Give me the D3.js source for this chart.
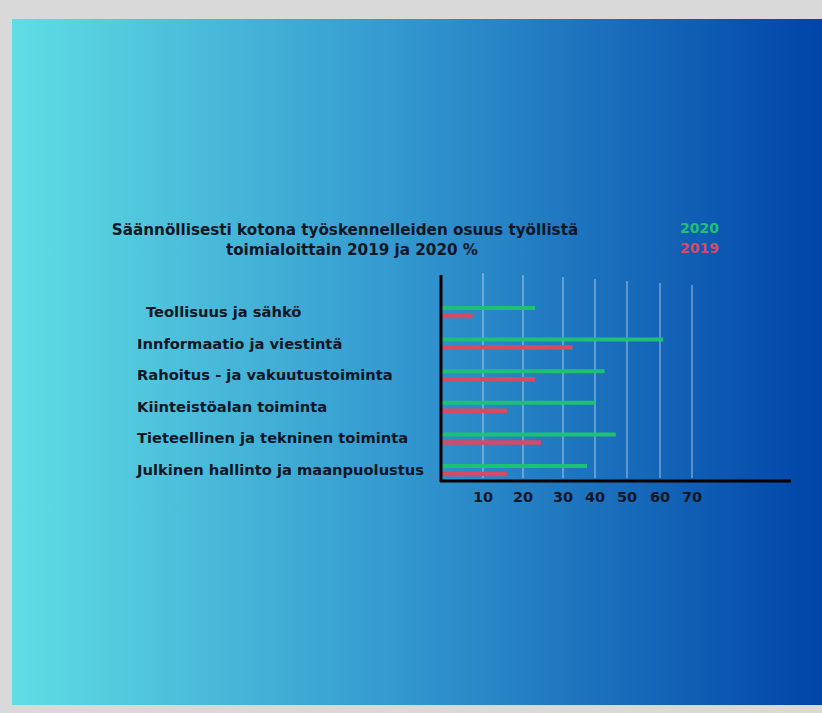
<!DOCTYPE html>
<html lang="fi">
<head>
  <meta charset="UTF-8" />
  <title>Säännöllisesti kotona työskennelleet</title>
  <script src="https://d3js.org/d3.v7.min.js"></script>
  <style>
    body { margin: 0; background: #d9d9d9; font-family: "DejaVu Sans", sans-serif; }
    text { font-weight: 700; }
  </style>
</head>
<body>
  <svg id="chart" width="822" height="713"></svg>

  <script>
    // data
    const categories = [
      "Teollisuus ja sähkö",
      "Innformaatio ja viestintä",
      "Rahoitus - ja vakuutustoiminta",
      "Kiinteistöalan toiminta",
      "Tieteellinen ja tekninen toiminta",
      "Julkinen hallinto ja maanpuolustus"
    ];
    const values2020 = [23, 61, 43, 40, 46.5, 37.5];
    const values2019 = [7.5, 33, 23, 16, 24.5, 16];
    const tickLabels = [10, 20, 30, 40, 50, 60, 70];
    const titleLines = [
      "Säännöllisesti kotona työskennelleiden osuus työllistä",
      "toimialoittain 2019 ja 2020 %"
    ];
    const legendItems = ["2020", "2019"];

    const svg = d3.select("#chart");
    const green = "#1ec174", red = "#d64a64", ink = "#0b1626";

    const defs = svg.append("defs");
    const grad = defs.append("linearGradient").attr("id", "bg")
      .attr("x1", "0%").attr("x2", "100%").attr("y1", "0%").attr("y2", "0%");
    grad.append("stop").attr("offset", "0%").attr("stop-color", "#5fdde4");
    grad.append("stop").attr("offset", "48%").attr("stop-color", "#3398cf");
    grad.append("stop").attr("offset", "100%").attr("stop-color", "#0044a8");

    svg.append("rect").attr("x", 12).attr("y", 19).attr("width", 810).attr("height", 686)
      .attr("fill", "url(#bg)");

    // the axis in the picture is not evenly spaced, so a piecewise linear scale
    const x = d3.scaleLinear()
      .domain([0, 10, 20, 30, 40, 50, 60, 70])
      .range([442, 483, 523, 563, 595, 627, 660, 692]);

    const y = d3.scalePoint().domain(categories).range([312, 470]);

    // grid lines
    svg.append("g").selectAll("line").data(tickLabels).join("line")
      .attr("x1", d => x(d)).attr("x2", d => x(d))
      .attr("y1", (d, i) => 273 + i * 2).attr("y2", 478)
      .attr("stroke", "#ffffff").attr("stroke-opacity", 0.3).attr("stroke-width", 2);

    // bars
    svg.append("g").selectAll("line").data(categories).join("line")
      .attr("x1", x(0)).attr("x2", (d, i) => x(values2020[i]))
      .attr("y1", d => y(d) - 4).attr("y2", d => y(d) - 4)
      .attr("stroke", green).attr("stroke-width", 4);
    svg.append("g").selectAll("line").data(categories).join("line")
      .attr("x1", x(0)).attr("x2", (d, i) => x(values2019[i]))
      .attr("y1", d => y(d) + 4).attr("y2", d => y(d) + 4)
      .attr("stroke", red).attr("stroke-width", 4.5);

    // axis lines
    svg.append("line").attr("x1", 441).attr("x2", 441).attr("y1", 275).attr("y2", 482)
      .attr("stroke", "#000").attr("stroke-width", 3);
    svg.append("line").attr("x1", 440).attr("x2", 791).attr("y1", 481).attr("y2", 481)
      .attr("stroke", "#000").attr("stroke-width", 3);

    // tick labels
    svg.append("g").selectAll("text").data(tickLabels).join("text")
      .attr("x", d => x(d)).attr("y", 502)
      .attr("text-anchor", "middle").attr("fill", ink).style("font-size", "14.5px")
      .text(d => d);

    // category labels
    svg.append("g").selectAll("text").data(categories).join("text")
      .attr("x", (d, i) => i === 0 ? 146 : 137)
      .attr("y", (d, i) => y(d) + 5)
      .attr("fill", ink).style("font-size", "14.7px")
      .text(d => d);

    // title
    svg.append("g").selectAll("text").data(titleLines).join("text")
      .attr("x", (d, i) => i === 0 ? 345 : 352).attr("y", (d, i) => 235 + i * 20)
      .attr("text-anchor", "middle").attr("fill", ink).style("font-size", "15.2px")
      .text(d => d);

    // legend
    svg.append("g").selectAll("text").data(legendItems).join("text")
      .attr("x", 680).attr("y", (d, i) => 233 + i * 20)
      .attr("fill", (d, i) => i === 0 ? green : red).style("font-size", "14px")
      .text(d => d);
  </script>
</body>
</html>
